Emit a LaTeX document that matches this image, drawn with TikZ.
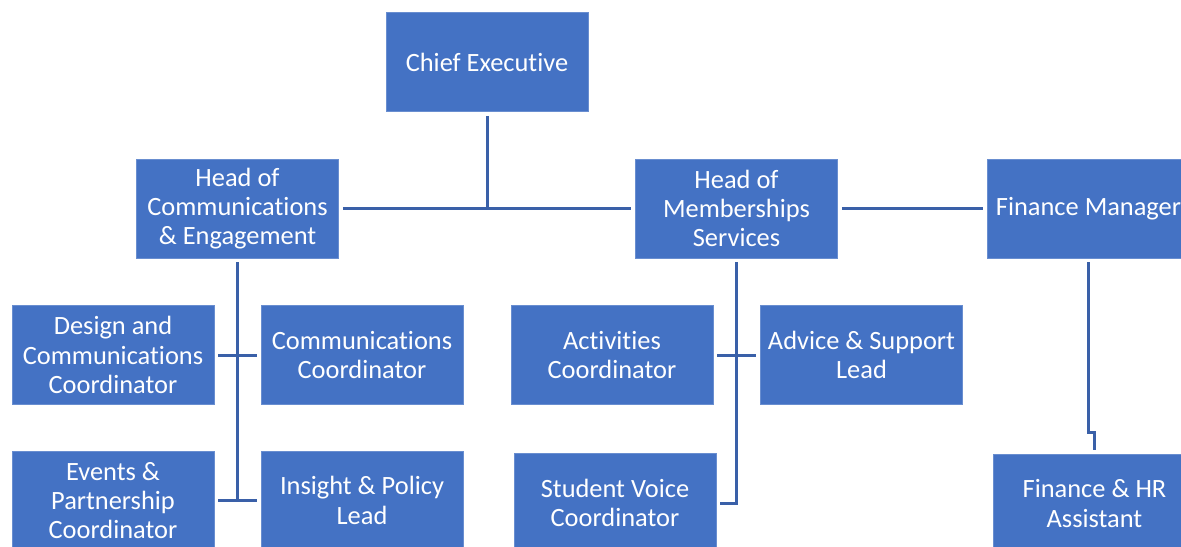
\documentclass[tikz,border=0pt]{standalone}
\usepackage{fontspec}
\setmainfont{Carlito}[Ligatures=NoCommon]
\usetikzlibrary{positioning}
\definecolor{boxblue}{HTML}{4472C4}
\definecolor{lineblue}{HTML}{3A60A8}

\begin{document}
\begin{tikzpicture}[x=1pt,y=1pt,on grid,node distance=73.25pt and 124.75pt,
   role/.style={rectangle,fill=boxblue,draw=boxblue!80!white,line width=0.4pt,
     minimum width=101pt,minimum height=49.5pt,inner sep=0pt,align=center,
     text=white,font=\fontsize{13.2}{14.6}\selectfont},
   link/.style={draw=lineblue,line width=1.5pt},
   gap/.style={shorten <=2pt,shorten >=2pt}]
   \useasboundingbox (0,0) rectangle (590.5,-273);
   \clip (0,0) rectangle (590.5,-273);

   \node[role] (ce) at (243.5,-31) {Chief Executive};

   % heads
   \node[role] (hce) [below left=of ce] {Head of\\Communications\\\& Engagement};
   \node[role] (hms) [below right=of ce] {Head of\\Memberships\\Services};
   \node[role] (fm) [right=176pt of hms] {Finance Manager};

   % communications team
   \node[role] (dcc) [below left=73.25pt and 62.25pt of hce] {Design and\\Communications\\Coordinator};
   \node[role] (cc) [below right=73.25pt and 62.25pt of hce] {Communications\\Coordinator};
   \node[role] (epc) [below=72.75pt of dcc] {Events \&\\Partnership\\Coordinator};
   \node[role] (ipl) [below=72.75pt of cc] {Insight \& Policy\\Lead};

   % memberships team
   \node[role] (ac) [below left=73.25pt and 62.25pt of hms] {Activities\\Coordinator};
   \node[role] (asl) [below right=73.25pt and 62.5pt of hms] {Advice \& Support\\Lead};
   \node[role] (svc) [below=74pt of ac,xshift=1.5pt] {Student Voice\\Coordinator};

   % finance
   \node[role] (fha) [below=147.5pt of fm,xshift=3pt] {Finance \& HR\\Assistant};
   \coordinate[below=87.25pt of fm.south] (jog);

   \draw[link,shorten <=2pt] (ce) -- (ce |- hce);
   \draw[link,gap] (hce) -- (hms);
   \draw[link,gap] (hms) -- (fm);

   \draw[link,shorten <=2pt] (hce) -- (hce |- ipl);
   \draw[link,gap] (dcc) -- (cc);
   \draw[link,gap] (epc) -- (ipl);

   \draw[link,gap] (hms) |- (svc);
   \draw[link,gap] (ac) -- (asl);

   \draw[link,gap] (fm) -- (jog) -| (fha);
\end{tikzpicture}
\end{document}
